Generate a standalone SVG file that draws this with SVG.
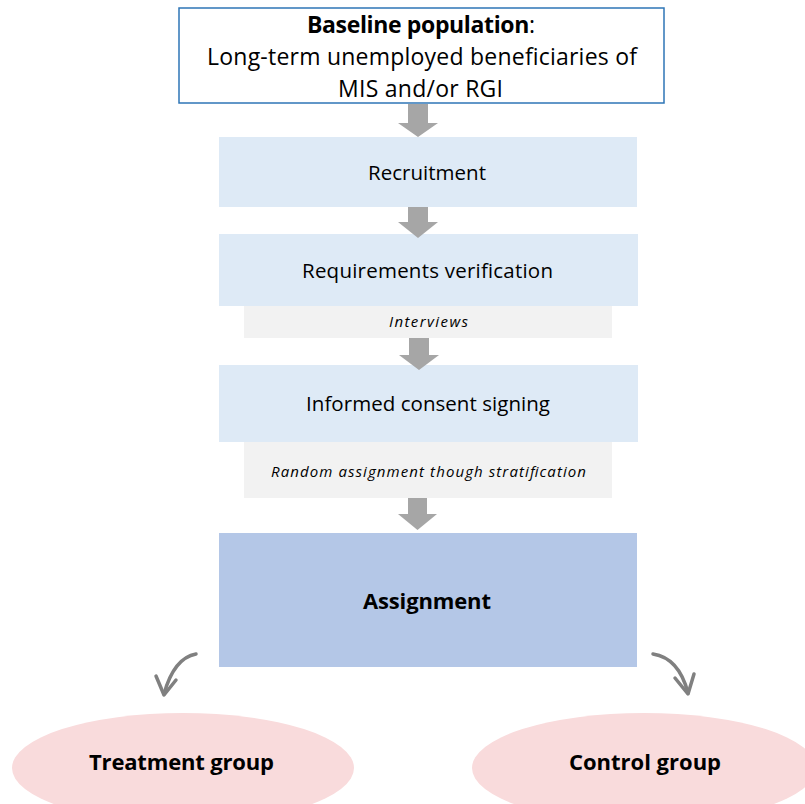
<svg xmlns="http://www.w3.org/2000/svg" width="805" height="804" viewBox="0 0 805 804">
<style>
  text { font-family: "Open Sans", "Noto Sans", "Liberation Sans", sans-serif; fill: #000; text-anchor: middle; }
  .step { fill: #DEEAF6; }
  .note { fill: #F2F2F2; }
  .big { font-size: 23px; }
  .lbl { font-size: 20.5px; }
  .it { font-size: 15px; font-style: italic; }
  .bold { font-size: 22px; font-weight: bold; }
  .blk { fill: #A6A6A6; }
  .curve { fill: none; stroke: #808080; stroke-width: 3.5; stroke-linecap: round; stroke-linejoin: round; }
  .group { fill: #F9DBDC; }
</style>
<rect width="805" height="804" fill="#FFFFFF"/>

<g id="baseline">
  <rect x="179" y="8" width="485" height="95" fill="#FFFFFF" stroke="#2E75B6" stroke-width="1.5"/>
  <text class="big" x="421" y="33" textLength="228"><tspan font-weight="bold">Baseline population</tspan>:</text>
  <text class="big" x="422" y="65" textLength="430">Long-term unemployed beneficiaries of</text>
  <text class="big" x="420.5" y="97" textLength="165">MIS and/or RGI</text>
</g>

<g id="recruitment">
  <rect class="step" x="219" y="137" width="418" height="70"/>
  <text class="lbl" x="427" y="180" textLength="118">Recruitment</text>
</g>

<g id="requirements">
  <rect class="step" x="219" y="234" width="419" height="72"/>
  <text class="lbl" x="427.5" y="278" textLength="251">Requirements verification</text>
</g>

<g id="interviews">
  <rect class="note" x="244" y="306" width="368" height="32"/>
  <text class="it" x="428.5" y="327" textLength="79">Interviews</text>
</g>

<g id="consent">
  <rect class="step" x="219" y="365" width="419" height="77"/>
  <text class="lbl" x="428" y="411" textLength="244">Informed consent signing</text>
</g>

<g id="random">
  <rect class="note" x="244" y="442" width="368" height="56"/>
  <text class="it" x="428.5" y="477" textLength="315">Random assignment though stratification</text>
</g>

<g id="assignment">
  <rect x="219" y="533" width="418" height="134" fill="#B4C7E7"/>
  <text class="bold" x="427" y="609" textLength="128">Assignment</text>
</g>

<g id="treatment">
  <ellipse class="group" cx="183" cy="768" rx="171" ry="55"/>
  <text class="bold" x="181.5" y="770" textLength="185">Treatment group</text>
</g>

<g id="control">
  <ellipse class="group" cx="644" cy="768" rx="172" ry="55"/>
  <text class="bold" x="645" y="770" textLength="152">Control group</text>
</g>

<g id="connectors">
  <polygon class="blk" points="408,104 428,104 428,123 438,123 418,137 398,123 408,123"/>
  <polygon class="blk" points="408,207 428,207 428,222 438,222 418,238 398,222 408,222"/>
  <polygon class="blk" points="409,338 429,338 429,355 439,355 419,370 399,355 409,355"/>
  <polygon class="blk" points="408,498 427,498 427,514 437,514 417.5,530 398,514 408,514"/>
  <path class="curve" d="M196,654 Q174,658 164,694"/>
  <polyline class="curve" points="156,676 164,695 176,680"/>
  <path class="curve" d="M653,654 Q679,658 688,693"/>
  <polyline class="curve" points="675,678 688,694 694,674"/>
</g>
</svg>
